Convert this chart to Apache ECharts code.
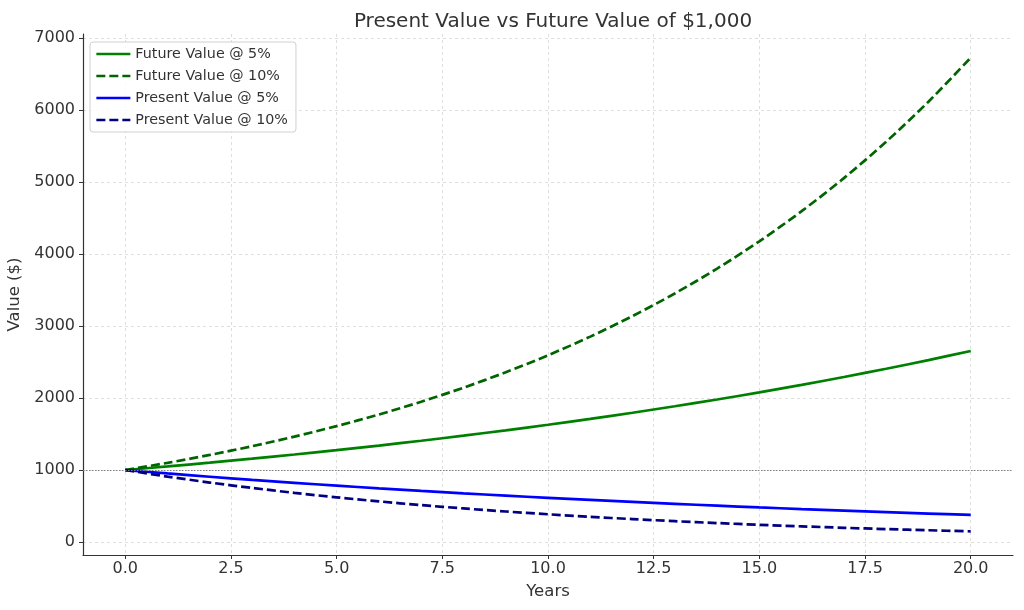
<!DOCTYPE html>
<html>
<head>
<meta charset="utf-8">
<script src="https://cdn.jsdelivr.net/npm/echarts@6/dist/echarts.min.js"></script>
<style>html,body{margin:0;padding:0;background:#fff}#c{width:1024px;height:610px}</style>
</head>
<body>
<div id="c"></div>
<script>
const years = [0,1,2,3,4,5,6,7,8,9,10,11,12,13,14,15,16,17,18,19,20];
const fv5 = [1000,1050,1102.5,1157.6,1215.5,1276.3,1340.1,1407.1,1477.5,1551.3,1628.9,1710.3,1795.9,1885.6,1979.9,2078.9,2182.9,2292.0,2406.6,2527.0,2653.3];
const fv10 = [1000,1100,1210,1331,1464.1,1610.5,1771.6,1948.7,2143.6,2357.9,2593.7,2853.1,3138.4,3452.3,3797.5,4177.2,4595.0,5054.5,5559.9,6115.9,6727.5];
const pv5 = [1000,952.4,907.0,863.8,822.7,783.5,746.2,710.7,676.8,644.6,613.9,584.7,556.8,530.3,505.1,481.0,458.1,436.3,415.5,395.7,376.9];
const pv10 = [1000,909.1,826.4,751.3,683.0,620.9,564.5,513.2,466.5,424.1,385.5,350.5,318.6,289.7,263.3,239.4,217.6,197.8,179.9,163.5,148.6];
const xTicks = [0,2.5,5,7.5,10,12.5,15,17.5,20];
const yTicks = [0,1000,2000,3000,4000,5000,6000,7000];
const baseline = 1000;

const font = 'DejaVu Sans';
function pair(arr){ return years.map((y,i)=>[y,arr[i]]); }
function mk(name, arr, color, dashed){
  return {
    name: name, type: 'line', data: pair(arr), symbol: 'none', showSymbol: false, smooth: 0.3,
    lineStyle: {color: color, width: 2.7, type: dashed ? [9,4] : 'solid', cap: 'butt'},
    itemStyle: {color: color}
  };
}
const series = [
  mk('Future Value @ 5%', fv5, '#008000', false),
  mk('Future Value @ 10%', fv10, '#006400', true),
  mk('Present Value @ 5%', pv5, '#0000ff', false),
  mk('Present Value @ 10%', pv10, '#000080', true)
];
series[0].markLine = {
  silent: true, symbol: 'none', label: {show: false},
  lineStyle: {color: '#808080', type: [1.5,1.5], width: 1.2},
  data: [{yAxis: baseline}]
};
const chart = echarts.init(document.getElementById('c'), null, {renderer: 'canvas'});
chart.setOption({
  animation: false,
  backgroundColor: '#fff',
  textStyle: {fontFamily: font},
  title: {
    text: 'Present Value vs Future Value of $1,000', left: 548, top: 7, textAlign: 'center',
    textStyle: {fontFamily: font, fontSize: 20, fontWeight: 'normal', color: '#333'}
  },
  legend: {
    orient: 'vertical', left: 90, top: 42, itemGap: 8, itemWidth: 34, itemHeight: 14,
    padding: [5, 8, 5, 5],
    backgroundColor: 'rgba(255,255,255,0.85)', borderColor: '#d0d0d0', borderWidth: 1, borderRadius: 3,
    itemStyle: {opacity: 0},
    lineStyle: {width: 2.7},
    textStyle: {fontFamily: font, fontSize: 14.3, color: '#333'},
    data: series.map(s=>s.name)
  },
  grid: {left: 83, right: 11, top: 34, bottom: 55, containLabel: false, outerBoundsMode: 'none'},
  xAxis: {
    type: 'value', min: -1, max: 21,
    name: 'Years', nameLocation: 'middle', nameGap: 28,
    nameTextStyle: {fontFamily: font, fontSize: 16.5, color: '#333'},
    axisLine: {show: true, onZero: false, lineStyle: {color: '#333', width: 1.2}},
    axisTick: {show: true, length: 4, lineStyle: {color: '#333'}, customValues: xTicks},
    axisLabel: {fontFamily: font, fontSize: 16, color: '#333', margin: 6, customValues: xTicks,
      formatter: v => v.toFixed(1)},
    splitLine: {show: true, lineStyle: {color: '#d6d6d6', type: [3,3], width: 0.8}}
  },
  yAxis: {
    type: 'value', min: -180, max: 7056,
    name: 'Value ($)', nameLocation: 'middle', nameGap: 53, nameRotate: 90,
    nameTextStyle: {fontFamily: font, fontSize: 16.5, color: '#333'},
    axisLine: {show: true, onZero: false, lineStyle: {color: '#333', width: 1.2}},
    axisTick: {show: true, length: 4, lineStyle: {color: '#333'}, customValues: yTicks},
    axisLabel: {fontFamily: font, fontSize: 16, color: '#333', margin: 8, customValues: yTicks,
      formatter: v => String(v)},
    splitLine: {show: true, lineStyle: {color: '#d6d6d6', type: [3,3], width: 0.8}}
  },
  series: series
});
</script>
</body>
</html>
